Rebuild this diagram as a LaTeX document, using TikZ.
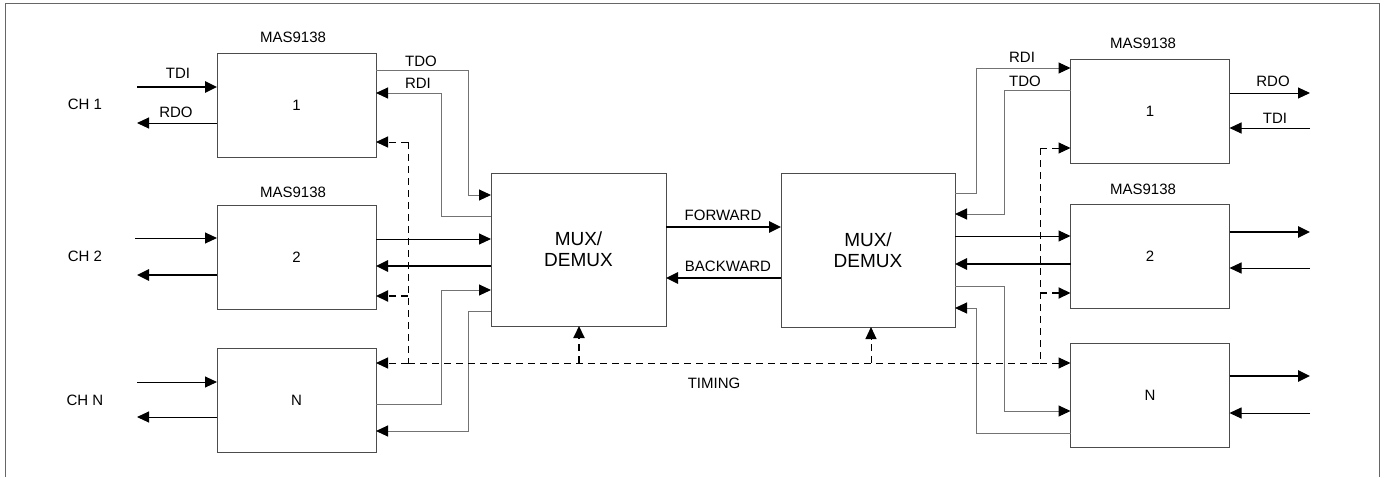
\documentclass[tikz,border=0pt]{standalone}
\usepackage{fontspec}
\setmainfont{Liberation Sans}
\usetikzlibrary{arrows.meta}
\tikzset{
  blk/.style={draw=black!70, line width=1pt, fill=white, inner sep=0pt, outer sep=0pt},
  chip/.style={blk, minimum width=159pt, minimum height=104pt, font=\fontsize{15}{18}\selectfont},
  mux/.style={blk, minimum width=175pt, minimum height=153pt, align=center, font=\fontsize{19}{21}\selectfont},
  lbl/.style={inner sep=0pt, font=\fontsize{15}{18}\selectfont},
  sig/.style={line width=1pt, -{Triangle[length=12pt,width=11pt]}},
  thk/.style={line width=2.6pt, -{Triangle[length=12pt,width=11pt]}},
  gry/.style={line width=1pt, draw=black!55},
  grysig/.style={gry, -{Triangle[length=12pt,width=11pt,color=black]}},
  tim/.style={line width=1pt, dash pattern=on 7pt off 5pt},
  timsig/.style={tim, -{Triangle[length=12pt,width=11pt]}},
  timthk/.style={line width=2pt, dash pattern=on 7pt off 5pt, -{Triangle[length=12pt,width=11pt]}},
}
\begin{document}
\begin{tikzpicture}[x=1pt, y=-1pt]
\useasboundingbox (0,0) rectangle (1384,477);
% frame
\draw[line width=1pt, draw=black!60] (5,477) -- (5,3) -- (1379,3) -- (1379,477);

% boxes
\node[chip] (L1) at (296.5,105) {1};
\node[chip] (L2) at (296.5,257.5) {2};
\node[chip] (LN) at (296.5,400) {N};
\node[mux] (M1) at (578.5,249.5) {MUX/\\DEMUX};
\node[mux, minimum width=174pt, minimum height=154pt] (M2) at (868,250) {MUX/\\DEMUX};
\node[chip] (R1) at (1150,111.5) {1};
\node[chip] (R2) at (1150,256) {2};
\node[chip] (RN) at (1150,395) {N};

% chip titles
\node[lbl] (tL1) at (293,37) {MAS9138};
\node[lbl] (tL2) at (293,192) {MAS9138};
\node[lbl] (tR1) at (1143,43) {MAS9138};
\node[lbl] (tR2) at (1143,189) {MAS9138};

% channel labels
\node[lbl] (ch1) at (85,104) {CH 1};
\node[lbl] (ch2) at (85,256) {CH 2};
\node[lbl] (chn) at (85,400) {CH N};

% free ends
\coordinate (a1) at (137,87);
\coordinate (a2) at (137,123);
\coordinate (a3) at (135,238);
\coordinate (a4) at (137,275);
\coordinate (a5) at (137,382);
\coordinate (a6) at (137,417);
\coordinate (b1) at (1310,93);
\coordinate (b2) at (1310,128);
\coordinate (b3) at (1310,232);
\coordinate (b4) at (1310,268);
\coordinate (b5) at (1310,376);
\coordinate (b6) at (1310,413);

% left channels
\draw[thk] (a1) -- (L1.west |- a1);
\draw[sig] (L1.west |- a2) -- (a2);
\node[lbl] (tdiL) at (178,73) {TDI};
\node[lbl] (rdoL) at (176,112) {RDO};
\draw[sig] (a3) -- (L2.west |- a3);
\draw[thk] (L2.west |- a4) -- (a4);
\draw[sig] (a5) -- (LN.west |- a5);
\draw[sig] (LN.west |- a6) -- (a6);

% right channels
\draw[sig] (R1.east |- b1) -- (b1);
\draw[sig] (b2) -- (R1.east |- b2);
\node[lbl] (rdoR) at (1273,81) {RDO};
\node[lbl] (tdiR) at (1275,118) {TDI};
\draw[thk] (R2.east |- b3) -- (b3);
\draw[sig] (b4) -- (R2.east |- b4);
\draw[thk] (RN.east |- b5) -- (b5);
\draw[sig] (b6) -- (RN.east |- b6);

% left chips <-> M1
\draw[grysig] (L1.east |- 0,70) -| (468,195) -- (M1.west |- 0,195);
\draw[grysig] (M1.west |- 0,216) -- (441,216) |- (L1.east |- 0,93);
\node[lbl] (tdoL) at (421,61) {TDO};
\node[lbl] (rdiL) at (418,83) {RDI};
\draw[sig] (L2.east |- 0,239) -- (M1.west |- 0,239);
\draw[thk] (M1.west |- 0,266) -- (L2.east |- 0,266);
\draw[grysig] (LN.east |- 0,404) -- (441,404) |- (M1.west |- 0,290);
\draw[grysig] (M1.west |- 0,311) -- (468,311) |- (LN.east |- 0,431);

% M1 <-> M2
\draw[thk] (M1.east |- 0,227) -- (M2.west |- 0,227);
\draw[thk] (M2.west |- 0,278) -- (M1.east |- 0,278);
\node[lbl] (fwd) at (723,215) {FORWARD};
\node[lbl] (bwd) at (728,266) {BACKWARD};

% M2 <-> right chips
\draw[grysig] (M2.east |- 0,193) -- (976,193) |- (R1.west |- 0,68);
\draw[grysig] (R1.west |- 0,90) -- (1004,90) |- (M2.east |- 0,214);
\node[lbl] (rdiR) at (1022,57) {RDI};
\node[lbl] (tdoR) at (1025,81) {TDO};
\draw[sig] (M2.east |- 0,236) -- (R2.west |- 0,236);
\draw[thk] (R2.west |- 0,264) -- (M2.east |- 0,264);
\draw[grysig] (M2.east |- 0,286) -- (1004,286) |- (RN.west |- 0,411);
\draw[grysig] (RN.west |- 0,433) -- (976,433) |- (M2.east |- 0,308);

% timing
\coordinate (tl) at (408,363);
\coordinate (tr) at (1040,363);
\draw[tim] (408,142) -- (tl);
\draw[tim] (1040,148) -- (tr);
\draw[tim] (tl) -- (tr);
\draw[timsig] (408,142) -- (L1.east |- 0,142);
\draw[timthk] (408,296) -- (L2.east |- 0,296);
\draw[timsig] (tl) -- (LN.east |- tl);
\draw[timsig] (1040,148) -- (R1.west |- 0,148);
\draw[timthk] (1040,293) -- (R2.west |- 0,293);
\draw[timsig] (tr) -- (RN.west |- tr);
\draw[timthk] (579,363) -- (M1.south -| 579,0);
\draw[timsig] (871,363) -- (M2.south -| 871,0);
\node[lbl] (timing) at (714,383) {TIMING};
\end{tikzpicture}
\end{document}
